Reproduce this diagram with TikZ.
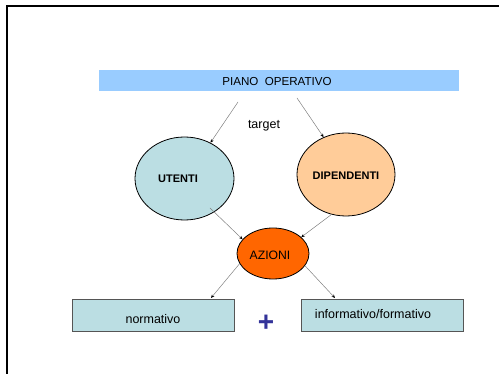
\documentclass[tikz,border=0pt]{standalone}
\usepackage{fontspec}
\setmainfont{Liberation Sans}
\usetikzlibrary{shapes.geometric,arrows.meta}
\definecolor{barblue}{HTML}{99CCFF}
\definecolor{teal}{HTML}{BBDEE3}
\definecolor{peach}{HTML}{FFCC99}
\definecolor{orng}{HTML}{FF6600}
\definecolor{plusblue}{HTML}{333399}
\definecolor{boxedge}{HTML}{555555}
\definecolor{linegray}{HTML}{808080}
\tikzset{
  oval/.style={ellipse, draw=black, line width=0.8pt, inner sep=0pt},
  rbox/.style={rectangle, draw=boxedge, line width=1.2pt, fill=teal, inner sep=0pt, anchor=north west},
  txt/.style={inner sep=0pt, font=\fontsize{12.5}{14}\selectfont},
  btxt/.style={inner sep=0pt, font=\fontsize{11}{13}\selectfont\bfseries},
  conn/.style={draw=linegray, line width=0.5pt, -{Stealth[length=3.5pt,width=3pt,color=black]}}
}
\begin{document}
\begin{tikzpicture}[x=1pt,y=-1pt]
\useasboundingbox (0,0) rectangle (499,374);
% frame
\draw[line width=1.7pt, black] (7,374) -- (7,6) -- (499,6);
% top bar
\node[rectangle, fill=barblue, inner sep=0pt, minimum width=360pt, minimum height=21pt, anchor=north west] (piano) at (99,70) {};
\node[inner sep=0pt, font=\fontsize{11.6}{13}\selectfont] (pianotxt) at (277,81.5) {PIANO\ \ OPERATIVO};
\node[txt] (target) at (264,125.5) {target};
% ellipses
\node[oval, fill=teal, minimum width=99pt, minimum height=83pt] (utenti) at (184.5,178.5) {};
\node[btxt] (utentitxt) at (178,179) {UTENTI};
\node[oval, fill=peach, minimum width=98pt, minimum height=83pt] (dip) at (346,174.5) {};
\node[btxt] (diptxt) at (346,176) {DIPENDENTI};
\node[oval, fill=orng, minimum width=72pt, minimum height=51pt] (azioni) at (273,253.5) {};
\node[txt, font=\fontsize{12.2}{14}\selectfont] (azionitxt) at (270,255.5) {AZIONI};
% boxes
\node[rbox, minimum width=162pt, minimum height=32pt] (norm) at (72,299) {};
\node[txt] (normtxt) at (153,319.5) {normativo};
\node[rbox, minimum width=162pt, minimum height=32pt] (info) at (301,299) {};
\node[txt] (infotxt) at (373,314) {informativo/formativo};
\node[inner sep=0pt, text=plusblue, font=\fontsize{28}{30}\selectfont\bfseries] (plus) at (266,323) {+};
% connector ends
\coordinate (a1) at (238,102);
\coordinate (a2) at (297,98);
\coordinate (a3) at (210,208);
\coordinate (b5) at (211,298);
\coordinate (b6) at (335,298);
\draw[conn] (a1) -- (utenti.54);
\draw[conn] (a2) -- (dip.121);
\draw[conn] (a3) -- (azioni.155);
\draw[conn] (dip.-110) -- (azioni.30);
\draw[conn] (azioni.197) -- (b5);
\draw[conn] (azioni.-21) -- (b6);
\end{tikzpicture}
\end{document}
